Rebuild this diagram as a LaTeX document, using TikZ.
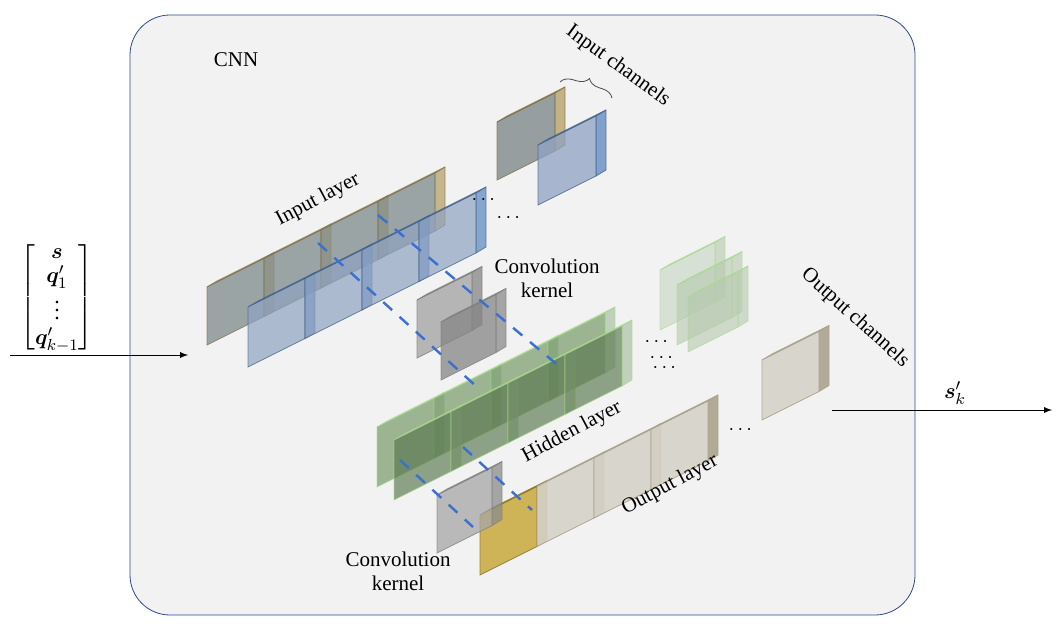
\documentclass[tikz,border=0pt]{standalone}
\usepackage{fontspec}
\setmainfont{Liberation Serif}
\usepackage{amsmath,bm}
\usetikzlibrary{decorations.pathreplacing}
\definecolor{bgc}{HTML}{F2F2F2}
\definecolor{frm}{HTML}{2F4A8A}
\definecolor{tanf}{HTML}{7F8A8C}
\definecolor{tans}{HTML}{B8A36A}
\definecolor{bluf}{HTML}{8FA3C2}
\definecolor{blus}{HTML}{5A86C0}
\definecolor{kerf}{HTML}{A6A6A6}
\definecolor{kers}{HTML}{8C8C8C}
\definecolor{grnf}{HTML}{6E9460}
\definecolor{grne}{HTML}{A8DC8C}
\definecolor{outf}{HTML}{D6D2C8}
\definecolor{outs}{HTML}{ABA38E}
\definecolor{yel}{HTML}{C8A83C}
\definecolor{dsh}{HTML}{3A70D0}
% \slab{x}{y}{w}{h}{face}{side}{edge}{opacity}
\newcommand\slab[8]{%
 \pgfmathsetmacro\sxa{#1}\pgfmathsetmacro\sya{#2}%
 \pgfmathsetmacro\sxb{#1+#3}\pgfmathsetmacro\syb{#2-#3/2}%
 \pgfmathsetmacro\syc{#2-#3/2-#4}\pgfmathsetmacro\syd{#2-#4}%
 \fill[#6,opacity=#8,draw=#7] (\sxa,\syd) -- (\sxb,\syc) -- ++(10,-6) -- ++({-#3},{#3/2}) -- cycle;
 \fill[#6,opacity=#8,draw=#7] (\sxb,\syb) -- ++(10,-6) -- ++(0,{-#4}) -- (\sxb,\syc) -- cycle;
 \fill[#5,opacity=#8,draw=#7] (\sxa,\sya) -- (\sxb,\syb) -- (\sxb,\syc) -- (\sxa,\syd) -- cycle;}
\begin{document}
\begin{tikzpicture}[x=0.5pt,y=-0.5pt,
 lbl/.style={font=\fontsize{10.5}{12}\selectfont,align=center},
 dl/.style={dsh,line width=1.2pt,dash pattern=on 6pt off 5pt}]
\useasboundingbox (0,0) rectangle (1058,631);
\draw[frm,fill=bgc,rounded corners=20pt] (130,15) rectangle (915,615);
\node[lbl] (cnn) at (236,60) {CNN};
% input layer row 1 (tan)
\foreach \i in {0,1,2,3} {\slab{207+57*\i}{345-28.5*\i}{57}{58}{tanf}{tans}{tans!70!black}{0.75}}
% input layer row 2 (blue)
\foreach \i in {0,1,2,3} {\slab{248+57*\i}{367-28.5*\i}{57}{60}{bluf}{blus}{blus!70!black}{0.7}}
% isolated input channels
\slab{497}{180}{58}{58}{tanf}{tans}{tans!70!black}{0.8}
\slab{538}{205}{58}{60}{bluf}{blus}{blus!70!black}{0.75}
% kernel 1
\slab{417}{358}{55}{58}{kerf}{kers}{gray}{0.8}
\slab{441}{380}{55}{58}{kerf!80!black}{kers}{gray}{0.75}
% hidden layer
\foreach \i in {0,1,2,3} {\slab{377+57*\i}{487-28.5*\i}{57}{60}{grnf}{grnf!60}{grne}{0.65}}
\foreach \i in {0,1,2,3} {\slab{394+57*\i}{500-28.5*\i}{57}{60}{grnf!80!black}{grnf!60}{grne}{0.65}}
% right green cluster
\slab{660}{330}{55}{60}{grnf!40}{grnf!50}{grne}{0.6}
\slab{677}{345}{55}{60}{grnf!50}{grnf!50}{grne}{0.6}
\slab{688}{352}{50}{55}{grnf!50}{grnf!50}{grne}{0.6}
% output layer
\slab{480}{575}{57}{60}{yel}{yel!80!black}{yel!70!black}{0.85}
\foreach \i in {1,2,3} {\slab{480+57*\i}{575-28.5*\i}{57}{60}{outf}{outs}{outs}{0.9}}
\slab{762}{420}{57}{60}{outf}{outs}{outs}{0.9}
% kernel 2
\slab{437}{553}{55}{58}{kerf}{kers}{gray}{0.75}
% dashed lines
\draw[dl] (318,243) -- (477,387);
\draw[dl] (378,215) -- (560,367);
\draw[dl] (400,460) -- (473,527);
\draw[dl] (463,447) -- (532,510);
% dots
\node (d1) at (485,200) {$\cdots$};
\node (d2) at (510,218) {$\cdots$};
\node (d3) at (658,342) {$\cdots$};
\node (d4) at (663,358) {$\cdots$};
\node (d4b) at (666,368) {$\cdots$};
\node (d5) at (742,430) {$\cdots$};
% labels
\node[lbl,rotate=28] (il) at (318,200) {Input layer};
\node[lbl] (ck1) at (547,278) {Convolution\\kernel};
\node[lbl,rotate=28] (hl) at (572,432) {Hidden layer};
\node[lbl,rotate=28] (ol) at (670,485) {Output layer};
\node[lbl] (ck2) at (398,571) {Convolution\\kernel};
\node[lbl,rotate=-42] (oc) at (855,318) {Output channels};
\node[lbl,rotate=-36] (ic) at (618,66) {Input channels};
\draw[decorate,decoration={brace,amplitude=6pt},black!70] (560,82) -- (612,98);
% input vector and arrows
\node[font=\fontsize{11}{12}\selectfont] (vec) at (57,297) {$\begin{bmatrix}\bm{s}\\ \bm{q}'_1\\ \vdots\\ \bm{q}'_{k-1}\end{bmatrix}$};
\coordinate (inA) at (10,355); \coordinate (inB) at (188,355);
\draw[-latex] (inA) -- (inB);
\coordinate (oA) at (832,410); \coordinate (oB) at (1052,410);
\draw[-latex] (oA) -- (oB);
\node[font=\fontsize{11}{12}\selectfont] (sk) at (955,393) {$\bm{s}'_k$};
\end{tikzpicture}
\end{document}
